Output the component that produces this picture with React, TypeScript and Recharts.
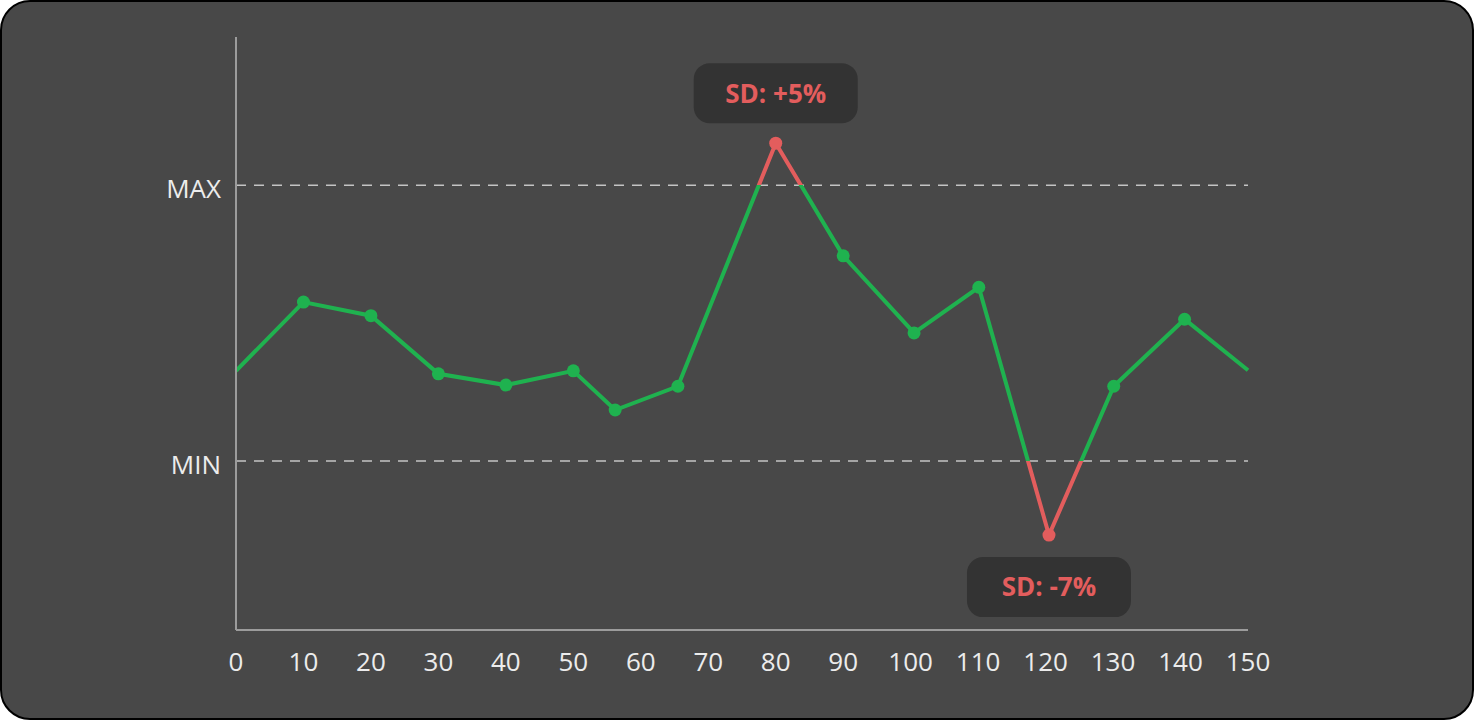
import React from 'react';
import { LineChart, Line, XAxis, YAxis, ReferenceLine, LabelList } from 'recharts';

const xValues = [0, 10, 20, 30, 40, 50, 56.2, 65.5, 80, 90, 100.5, 110.1, 120.5, 130.1, 140.6, 150];
const yValues = [43.7, 55.3, 53.0, 43.2, 41.3, 43.7, 37.1, 41.1, 82.1, 63.1, 50.1, 57.8, 16.0, 41.1, 52.4, 43.8];
const xTicks = [0, 10, 20, 30, 40, 50, 60, 70, 80, 90, 100, 110, 120, 130, 140, 150];
const MIN_VALUE = 28.5;
const MAX_VALUE = 75;
const yTickLabels: Record<number, string> = { [MIN_VALUE]: 'MIN', [MAX_VALUE]: 'MAX' };
const sdLabels = ['SD: +5%', 'SD: -7%'];

const data = xValues.map((x, i) => ({ x, y: yValues[i] }));

const GREEN = '#1fb24f';
const RED = '#e35d5d';
const FONT = '"Open Sans", "Noto Sans", sans-serif';

const dataMax = Math.max(...yValues);
const dataMin = Math.min(...yValues);
const offMax = (dataMax - MAX_VALUE) / (dataMax - dataMin);
const offMin = (dataMax - MIN_VALUE) / (dataMax - dataMin);

const outOfRange = (v: number) => v > MAX_VALUE || v < MIN_VALUE;

const renderDot = (props: any) => {
  const { cx, cy, index, value } = props;
  if (index === 0 || index === data.length - 1) return <g key={`d${index}`} />;
  const v = Array.isArray(value) ? value[1] : value;
  return <circle key={`d${index}`} cx={cx} cy={cy} r={6.5} fill={outOfRange(v) ? RED : GREEN} stroke="none" />;
};

const renderLabel = (props: any) => {
  const { x, y, value, index } = props;
  if (!outOfRange(value)) return null;
  const above = value > MAX_VALUE;
  const text = above ? sdLabels[0] : sdLabels[1];
  const w = 164;
  const h = 60;
  const top = above ? y - 20 - h : y + 22;
  return (
    <g key={`l${index}`}>
      <rect x={x - w / 2} y={top} width={w} height={h} rx={16} ry={16} fill="#333333" />
      <text x={x} y={top + h / 2} dy="0.36em" textAnchor="middle" fill={RED} fontFamily={FONT} fontWeight={700} fontSize={26}>
        {text}
      </text>
    </g>
  );
};

const renderYTick = (props: any) => {
  const { x, y, payload } = props;
  return (
    <text x={x} y={y} dy="0.5em" textAnchor="end" fill="#ececec" fontSize={26} fontFamily={FONT}>
      {yTickLabels[payload.value] ?? ''}
    </text>
  );
};

export default function App() {
  return (
    <div style={{ position: 'absolute', left: 0, top: 0, width: 1474, height: 720 }}>
      <div
        style={{
          position: 'absolute',
          left: 0,
          top: 0,
          width: 1474,
          height: 720,
          boxSizing: 'border-box',
          background: '#484848',
          border: '2px solid #000',
          borderRadius: 30,
        }}
      />
      <div style={{ position: 'absolute', left: 0, top: 0 }}>
        <LineChart width={1474} height={720} data={data} margin={{ top: 37, right: 226, bottom: 0, left: 136 }}>
          <defs>
            <linearGradient id="lineGrad" x1="0" y1="0" x2="0" y2="1">
              <stop offset={0} stopColor={RED} />
              <stop offset={offMax} stopColor={RED} />
              <stop offset={offMax} stopColor={GREEN} />
              <stop offset={offMin} stopColor={GREEN} />
              <stop offset={offMin} stopColor={RED} />
              <stop offset={1} stopColor={RED} />
            </linearGradient>
          </defs>
          <XAxis
            dataKey="x"
            type="number"
            domain={[0, 150]}
            ticks={xTicks}
            interval={0}
            height={90}
            tickLine={false}
            tickSize={0}
            tickMargin={23}
            axisLine={{ stroke: '#9c9c9c', strokeWidth: 2 }}
            tick={{ fill: '#ececec', fontSize: 26, fontFamily: FONT }}
          />
          <YAxis
            type="number"
            domain={[0, 100]}
            ticks={[MIN_VALUE, MAX_VALUE]}
            width={100}
            tickLine={false}
            tickSize={0}
            tickMargin={15}
            axisLine={{ stroke: '#9c9c9c', strokeWidth: 2 }}
            tick={renderYTick}
          />
          <ReferenceLine y={MAX_VALUE} stroke="#c4c4c4" strokeWidth={1.5} strokeDasharray="10 8" />
          <ReferenceLine y={MIN_VALUE} stroke="#c4c4c4" strokeWidth={1.5} strokeDasharray="10 8" />
          <Line
            type="linear"
            dataKey="y"
            stroke="url(#lineGrad)"
            strokeWidth={4}
            dot={renderDot}
            activeDot={false}
            isAnimationActive={false}
          >
            <LabelList dataKey="y" content={renderLabel} />
          </Line>
        </LineChart>
      </div>
    </div>
  );
}
